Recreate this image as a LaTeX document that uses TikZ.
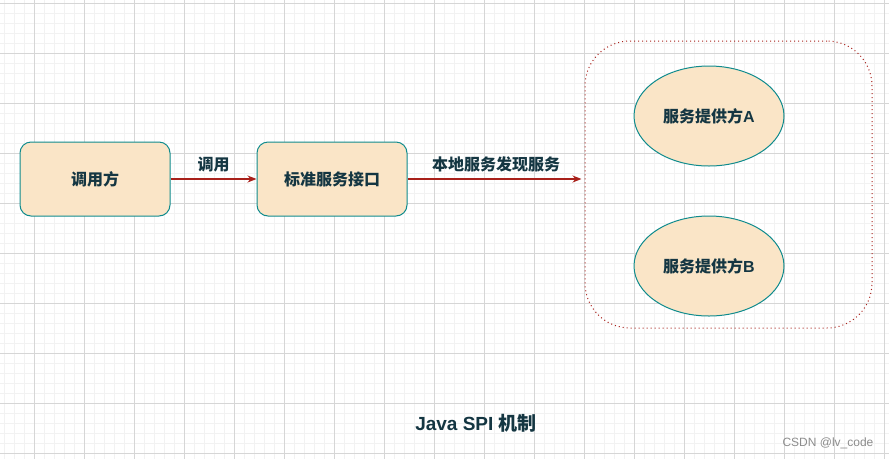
\documentclass[tikz,border=0pt]{standalone}
\usepackage{fontspec}
\newfontfamily\cjk{Noto Sans CJK SC}
\newfontfamily\latin{Liberation Sans}
\usetikzlibrary{arrows.meta,positioning,shapes.geometric}
\definecolor{boxfill}{HTML}{FAE5C7}
\definecolor{boxline}{HTML}{0F8B8D}
\definecolor{inktext}{HTML}{143642}
\definecolor{edgered}{HTML}{A8201A}
\tikzstyle{every node} = [font=\cjk\bfseries\fontsize{16}{19}\selectfont, text=inktext]
\tikzstyle{block} = [draw=boxline, fill=boxfill, line width=1pt, rounded corners=11pt, minimum width=150pt, minimum height=74pt]
\tikzstyle{provider} = [ellipse, draw=boxline, fill=boxfill, line width=1pt, minimum width=150pt, minimum height=100pt, inner sep=0pt]
\tikzstyle{link} = [draw=edgered, line width=1.2pt, -{Stealth[length=9pt,width=7pt]}]

\begin{document}
\begin{tikzpicture}[x=1pt, y=-1pt]
        \useasboundingbox (0,0) rectangle (889,459);
        % grid
        \foreach \gx in {4,14,...,884} \draw[black!5, line width=0.8pt] (\gx,0) -- (\gx,459);
        \foreach \gy in {3,13,...,453} \draw[black!5, line width=0.8pt] (0,\gy) -- (889,\gy);
        \foreach \gx in {34,84,...,884} \draw[black!16, line width=0.8pt] (\gx,0) -- (\gx,459);
        \foreach \gy in {3,53,...,453} \draw[black!16, line width=0.8pt] (0,\gy) -- (889,\gy);

        \node[block] (caller) at (95,179) {调用方};
        \node[block] (spi) at (332,179) {标准服务接口};
        \node[draw=edgered, dash pattern=on 1pt off 3pt, line width=1pt, rounded corners=45pt,
              minimum width=287pt, minimum height=287pt] (group) at (728.5,184.5) {};
        \node[provider] (provA) at (709,116) {服务提供方{\latin\bfseries A}};
        \node[provider] (provB) at (709,266) {服务提供方{\latin\bfseries B}};

        \draw[link] (caller.east) -- node[above=3pt] {调用} (spi.west);
        \draw[link, shorten >=3pt] (spi.east) -- node[above=3pt] {本地服务发现服务} (spi.east -| group.west);

        \node[font=\cjk\bfseries\fontsize{19}{22}\selectfont] (title) at (476,423) {{\latin\bfseries Java SPI }机制};
        \node[font=\latin\fontsize{12}{14}\selectfont, text=black!45] (mark) at (828,443) {CSDN @lv\_code};
\end{tikzpicture}
\end{document}
